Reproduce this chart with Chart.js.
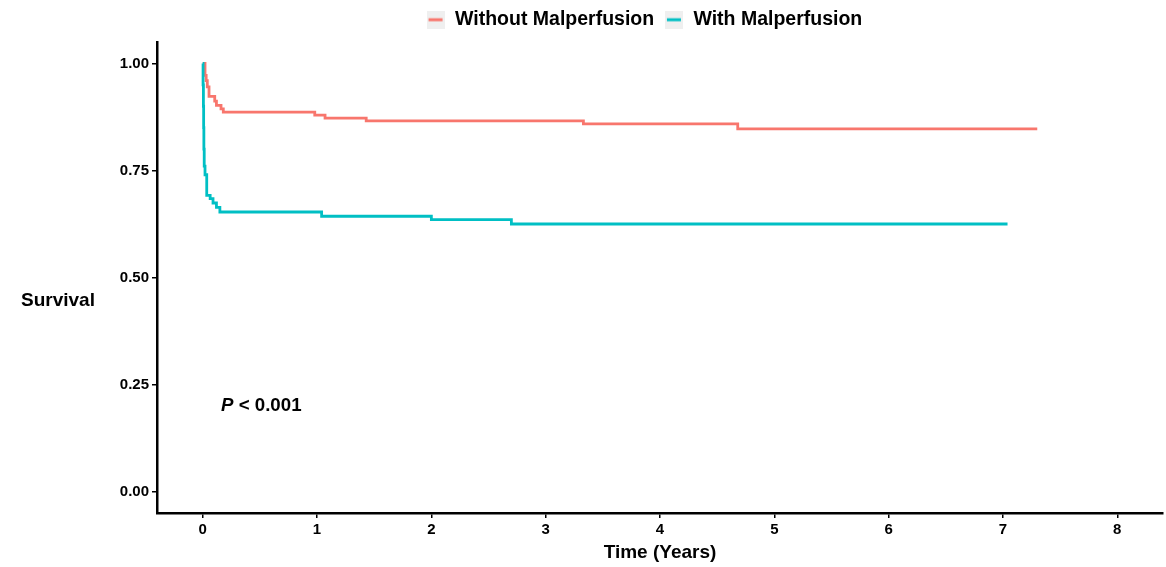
<!DOCTYPE html>
<html>
<head>
<meta charset="utf-8">
<script src="https://cdn.jsdelivr.net/npm/chart.js@4.4.1/dist/chart.umd.min.js"></script>
<style>
    html, body { margin: 0; padding: 0; background: #fff; }
    #wrap { position: relative; width: 1166px; height: 567px; }
</style>
</head>
<body>
<div id="wrap"><canvas id="kmChart"></canvas></div>
<script>
// Kaplan-Meier estimates (time in years, survival probability)
const groupNames = ['Without Malperfusion', 'With Malperfusion'];

const timeWithout = [0, 0.02, 0.03, 0.04, 0.055, 0.105, 0.12, 0.16, 0.18, 0.98, 1.07, 1.43, 3.33, 4.68, 7.30];
const survWithout = [1.0, 0.972, 0.96, 0.945, 0.923, 0.912, 0.902, 0.894, 0.886, 0.879, 0.872, 0.866, 0.859, 0.847, 0.847];

const timeWith = [0, 0.003, 0.006, 0.008, 0.010, 0.013, 0.020, 0.035, 0.065, 0.09, 0.12, 0.15, 1.04, 2.00, 2.70, 7.04];
const survWith = [1.0, 0.95, 0.90, 0.85, 0.80, 0.76, 0.74, 0.692, 0.684, 0.674, 0.664, 0.653, 0.643, 0.635, 0.625, 0.625];

const xTicks = [0, 1, 2, 3, 4, 5, 6, 7, 8];
const yTicks = [0, 0.25, 0.5, 0.75, 1];

const yTitle = 'Survival';
const xTitle = 'Time (Years)';
const pLabel = ['P', ' < 0.001'];

const FONT = '"Liberation Sans", Arial, Helvetica, sans-serif';
Chart.defaults.font.family = FONT;
Chart.defaults.color = '#000';

function legendKey(color) {
    const c = document.createElement('canvas');
    c.width = 18;
    c.height = 18;
    const g = c.getContext('2d');
    g.fillStyle = '#EFEFEF';
    g.fillRect(0, 0, 18, 18);
    g.strokeStyle = color;
    g.lineWidth = 3;
    g.beginPath();
    g.moveTo(2, 9);
    g.lineTo(16, 9);
    g.stroke();
    return c;
}

const toPoints = (t, s) => t.map((v, i) => ({ x: v, y: s[i] }));

// horizontal "Survival" label and the p-value annotation
const annotations = {
    id: 'annotations',
    beforeInit(chart) {
        const fit = chart.legend.fit;
        chart.legend.fit = function () {
            fit.call(this);
            this.height += 2.5;
        };
    },
    afterLayout(chart) {
        chart.legend.left -= 16;
        chart.legend.right -= 16;
    },
    afterDraw(chart) {
        const ctx = chart.ctx;
        const x = chart.scales.x, y = chart.scales.y;
        ctx.save();
        ctx.fillStyle = '#000';
        ctx.textBaseline = 'middle';
        ctx.textAlign = 'left';
        ctx.font = 'bold 19px ' + FONT;
        ctx.fillText(yTitle, 21, y.getPixelForValue(0.446));

        const px = x.getPixelForValue(0.16), py = y.getPixelForValue(0.2);
        ctx.font = 'italic bold 18.7px ' + FONT;
        ctx.fillText(pLabel[0], px, py);
        const w = ctx.measureText(pLabel[0]).width;
        ctx.font = 'bold 18.7px ' + FONT;
        ctx.fillText(pLabel[1], px + w, py);
        ctx.restore();
    }
};

const axisCommon = {
    grid: { display: true, drawOnChartArea: false, drawTicks: true, tickLength: 5, color: '#000', lineWidth: 1.5 },
    border: { display: true, color: '#000', width: 2.5 }
};

new Chart(document.getElementById('kmChart'), {
    type: 'line',
    data: {
        datasets: [
            {
                label: groupNames[0],
                data: toPoints(timeWithout, survWithout),
                borderColor: '#F8766D',
                pointStyle: legendKey('#F8766D'),
                order: 2
            },
            {
                label: groupNames[1],
                data: toPoints(timeWith, survWith),
                borderColor: '#00BFC4',
                pointStyle: legendKey('#00BFC4'),
                order: 1
            }
        ]
    },
    options: {
        responsive: true,
        maintainAspectRatio: false,
        animation: false,
        events: [],
        datasets: {
            line: { stepped: true, borderWidth: 2.8, pointRadius: 0, fill: false, tension: 0 }
        },
        layout: { padding: { left: 0, right: 3, top: 0, bottom: 0 } },
        plugins: {
            legend: {
                position: 'top',
                fullSize: false,
                labels: {
                    usePointStyle: true,
                    padding: 10,
                    color: '#000',
                    font: { size: 19.5, weight: 'bold' },
                    sort: (a, b) => a.datasetIndex - b.datasetIndex
                }
            },
            tooltip: { enabled: false }
        },
        scales: {
            x: {
                type: 'linear',
                min: -0.4,
                max: 8.4,
                afterBuildTicks: s => { s.ticks = xTicks.map(v => ({ value: v })); },
                afterFit: s => { s.height = 54; },
                ticks: { color: '#000', padding: 3, maxRotation: 0, autoSkip: false, font: { size: 15, weight: 'bold' }, callback: v => String(v) },
                title: { display: true, text: xTitle, color: '#000', font: { size: 19, weight: 'bold' }, padding: { top: 0, bottom: 3 } },
                ...axisCommon
            },
            y: {
                type: 'linear',
                min: -0.05,
                max: 1.05,
                afterBuildTicks: s => { s.ticks = yTicks.map(v => ({ value: v })); },
                afterFit: s => { s.width = 157; },
                ticks: { color: '#000', padding: 3, font: { size: 15, weight: 'bold' }, callback: v => v.toFixed(2) },
                ...axisCommon
            }
        }
    },
    plugins: [annotations]
});
</script>
</body>
</html>
